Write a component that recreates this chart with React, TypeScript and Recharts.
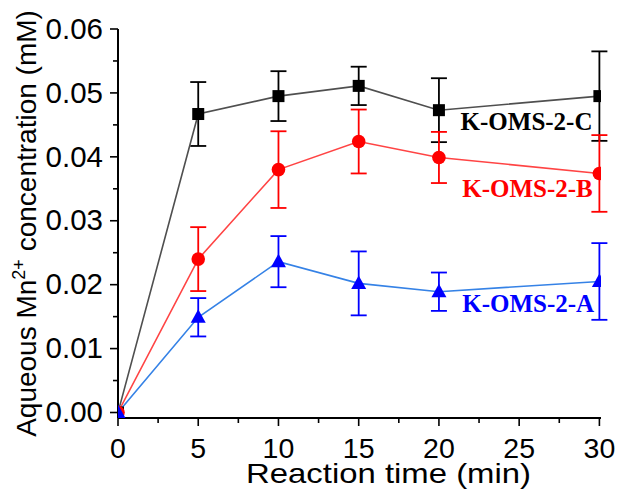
import React from 'react';
import { ComposedChart, Line, XAxis, YAxis, ErrorBar, ReferenceDot } from 'recharts';

const times = [0, 5, 10, 15, 20, 30];
const cValues = [0, 0.0467, 0.0495, 0.0511, 0.0473, 0.0495];
const cErrors = [0, 0.005, 0.0039, 0.003, 0.005, 0.007];
const bValues = [0, 0.024, 0.038, 0.0424, 0.0399, 0.0374];
const bErrors = [0, 0.005, 0.006, 0.005, 0.004, 0.006];
const aValues = [0, 0.0149, 0.0236, 0.0202, 0.0189, 0.0205];
const aErrors = [0, 0.003, 0.004, 0.005, 0.003, 0.006];

const xMajor = [0, 5, 10, 15, 20, 25, 30];
const xMinor = [2.5, 7.5, 12.5, 17.5, 22.5, 27.5];
const yMajor = [0, 0.01, 0.02, 0.03, 0.04, 0.05, 0.06];
const yMinor = [0.005, 0.015, 0.025, 0.035, 0.045, 0.055];
const yLabels = ['0.00', '0.01', '0.02', '0.03', '0.04', '0.05', '0.06'];

const seriesLabels = [
  { text: 'K-OMS-2-C', x: 21.35, y: 0.0442, color: '#000000' },
  { text: 'K-OMS-2-B', x: 21.45, y: 0.0337, color: '#ff0000' },
  { text: 'K-OMS-2-A', x: 21.45, y: 0.0157, color: '#0000ff' },
];

const data = times.map((t, i) => ({
  t,
  c: cValues[i],
  cErr: cErrors[i],
  b: bValues[i],
  bErr: bErrors[i],
  a: aValues[i],
  aErr: aErrors[i],
}));

const SANS = '"Liberation Sans", Arial, sans-serif';
const SERIF = '"Liberation Serif", "Times New Roman", serif';

const isMajor = (v: number, majors: number[]) => majors.some((m) => Math.abs(m - v) < 1e-9);

const XTick = (props: any) => {
  const { x, y, payload } = props;
  const major = isMajor(payload.value, xMajor);
  return (
    <g>
      <line x1={x} x2={x} y1={y} y2={y + (major ? 8 : 5)} stroke="#000" strokeWidth={1.6} />
      {major && (
        <text x={x} y={y + 40} textAnchor="middle" fontFamily={SANS} fontSize={28.5} fill="#000">
          {String(payload.value)}
        </text>
      )}
    </g>
  );
};

const YTick = (props: any) => {
  const { x, y, payload } = props;
  const idx = yMajor.findIndex((m) => Math.abs(m - payload.value) < 1e-9);
  const major = idx >= 0;
  return (
    <g>
      <line x1={x - (major ? 8 : 5)} x2={x} y1={y} y2={y} stroke="#000" strokeWidth={1.6} />
      {major && (
        <text x={x - 15} y={y} dy="0.33em" textAnchor="end" fontFamily={SANS} fontSize={29.5} fill="#000">
          {yLabels[idx]}
        </text>
      )}
    </g>
  );
};

const Square = (props: any) => {
  const { cx, cy, index } = props;
  return <rect key={`sq-${index}`} x={cx - 6} y={cy - 6} width={12} height={12} fill="#000" />;
};

const Circle = (props: any) => {
  const { cx, cy, index } = props;
  return <circle key={`ci-${index}`} cx={cx} cy={cy} r={6.8} fill="#ff0000" />;
};

const Triangle = (props: any) => {
  const { cx, cy, index } = props;
  return (
    <path
      key={`tr-${index}`}
      d={`M${cx},${cy - 8} L${cx + 7.5},${cy + 5.5} L${cx - 7.5},${cy + 5.5} Z`}
      fill="#0000ff"
    />
  );
};

const SeriesLabel = (color: string, text: string) => (props: any) => {
  const vb = props.viewBox || {};
  return (
    <text x={vb.x} y={vb.y} textAnchor="start" fontFamily={SERIF} fontWeight="bold" fontSize={25} fill={color}>
      {text}
    </text>
  );
};

const XTitle = (props: any) => {
  const vb = props.viewBox || {};
  const cx = vb.x + vb.width / 2 + 29;
  return (
    <text
      x={cx}
      y={vb.y + 65}
      textAnchor="middle"
      fontFamily={SANS}
      fontSize={28}
      fill="#000"
      textLength={285}
      lengthAdjust="spacingAndGlyphs"
    >
      Reaction time (min)
    </text>
  );
};

const YTitle = (props: any) => {
  const vb = props.viewBox || {};
  const cx = 36;
  const cy = vb.y + vb.height / 2;
  return (
    <text
      x={cx}
      y={cy}
      textAnchor="middle"
      transform={`rotate(-90, ${cx}, ${cy})`}
      fontFamily={SANS}
      fontSize={28}
      fill="#000"
    >
      <tspan>Aqueous Mn</tspan>
      <tspan dy={-11} fontSize={18}>2+</tspan>
      <tspan dy={11}> concentration (mM)</tspan>
    </text>
  );
};

export default function App() {
  const xDomain: [number, number] = [0, 30.1];
  const yDomain: [number, number] = [-0.00086, 0.06];
  return (
    <div style={{ position: 'absolute', left: 0, top: 0, background: '#fff' }}>
      <ComposedChart width={622} height={491} data={data} margin={{ top: 29, right: 21, left: 0, bottom: 0 }}>
        <XAxis
          dataKey="t"
          type="number"
          domain={xDomain}
          allowDataOverflow
          ticks={[...xMajor, ...xMinor].sort((p, q) => p - q)}
          interval={0}
          tickSize={0}
          tickMargin={0}
          tickLine={false}
          axisLine={{ stroke: '#000', strokeWidth: 2 }}
          tick={<XTick />}
          height={73}
          label={<XTitle />}
        />
        <XAxis
          xAxisId="top"
          orientation="top"
          type="number"
          domain={xDomain}
          allowDataOverflow
          height={0}
          tick={false}
          tickLine={false}
          axisLine={{ stroke: '#000', strokeWidth: 1.5 }}
        />
        <YAxis
          type="number"
          domain={yDomain}
          allowDataOverflow
          ticks={[...yMajor, ...yMinor].sort((p, q) => p - q)}
          interval={0}
          tickSize={0}
          tickMargin={0}
          tickLine={false}
          axisLine={{ stroke: '#000', strokeWidth: 2 }}
          tick={<YTick />}
          width={118}
          label={<YTitle />}
        />
        <YAxis
          yAxisId="right"
          orientation="right"
          type="number"
          domain={yDomain}
          allowDataOverflow
          width={0}
          tick={false}
          tickLine={false}
          axisLine={{ stroke: '#000', strokeWidth: 2 }}
        />
        <Line
          dataKey="c"
          stroke="#4f4f4f"
          strokeWidth={1.6}
          dot={Square}
          activeDot={false}
          isAnimationActive={false}
        >
          <ErrorBar dataKey="cErr" direction="y" width={8} stroke="#000" strokeWidth={1.8} isAnimationActive={false} />
        </Line>
        <Line
          dataKey="b"
          stroke="#ff4444"
          strokeWidth={1.6}
          dot={Circle}
          activeDot={false}
          isAnimationActive={false}
        >
          <ErrorBar dataKey="bErr" direction="y" width={8} stroke="#ff0000" strokeWidth={1.8} isAnimationActive={false} />
        </Line>
        <Line
          dataKey="a"
          stroke="#3582e6"
          strokeWidth={1.6}
          dot={Triangle}
          activeDot={false}
          isAnimationActive={false}
        >
          <ErrorBar dataKey="aErr" direction="y" width={8} stroke="#0000ff" strokeWidth={1.8} isAnimationActive={false} />
        </Line>
        {seriesLabels.map((l) => (
          <ReferenceDot
            key={l.text}
            x={l.x}
            y={l.y}
            r={0}
            fill="none"
            stroke="none"
            ifOverflow="visible"
            label={SeriesLabel(l.color, l.text)}
          />
        ))}
      </ComposedChart>
    </div>
  );
}
